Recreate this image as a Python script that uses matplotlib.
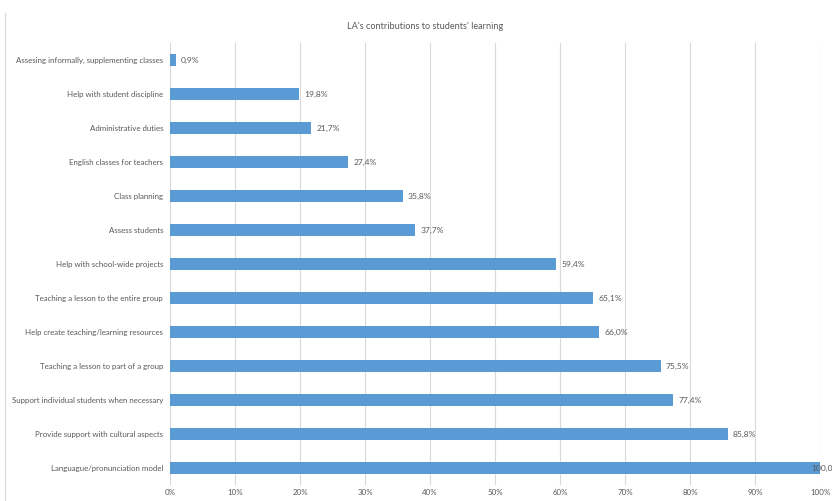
import numpy as np
import matplotlib.pyplot as plt
from matplotlib.lines import Line2D

plt.rcParams['font.family'] = ['Lato', 'DejaVu Sans']

### data (top to bottom as in the chart)
categories = [
    'Assesing informally, supplementing classes',
    'Help with student discipline',
    'Administrative duties',
    'English classes for teachers',
    'Class planning',
    'Assess students',
    'Help with school-wide projects',
    'Teaching a lesson to the entire group',
    'Help create teaching/learning resources',
    'Teaching a lesson to part of a group',
    'Support individual students when necessary',
    'Provide support with cultural aspects',
    'Languague/pronunciation model',
]
values = [0.9, 19.8, 21.7, 27.4, 35.8, 37.7, 59.4, 65.1, 66.0, 75.5, 77.4, 85.8, 100.0]
ticks = np.arange(0, 101, 10)

text_col = '#595959'
bar_col = '#5B9BD5'
fs = 5.7

fig = plt.figure(figsize=(8.32, 5.01), dpi=100)
ax = fig.add_axes([0.2043, 0.032, 0.7813, 0.882])

y = np.arange(len(categories))
ax.barh(y, values, height=0.36, color=bar_col, zorder=3)
ax.set_ylim(len(categories) - 0.5, -0.5)
ax.set_xlim(0, 100)
ax.set_yticks(y)
ax.set_yticklabels(categories, fontsize=fs, color=text_col)
ax.set_xticks(ticks)
ax.set_xticklabels(['%d%%' % t for t in ticks], fontsize=fs, color=text_col)
ax.tick_params(length=0)
ax.tick_params(axis='x', pad=3)
ax.tick_params(axis='y', pad=5)

# gridlines
ax.grid(axis='x', color='#D9D9D9', linewidth=0.8, zorder=0)
for s in ax.spines.values():
    s.set_visible(False)

# value labels (the one at 100% gets pushed back over the bar end, like excel)
for yi, v in zip(y, values):
    xpos = v + 0.8 if v < 95 else v - 1.3
    ax.text(xpos, yi, ('%.1f%%' % v).replace('.', ','), va='center', ha='left',
            fontsize=6.1, color=text_col, clip_on=False, zorder=4)

fig.text(0.511, 0.948, "LA's contributions to students' learning", ha='center', va='center',
         fontsize=6.6, color=text_col)

# chart frame (left edge only visible)
fig.add_artist(Line2D([0.006, 0.006], [0.0, 0.975], color='#D9D9D9', linewidth=0.8))

fig.savefig('out.png', dpi=100)
